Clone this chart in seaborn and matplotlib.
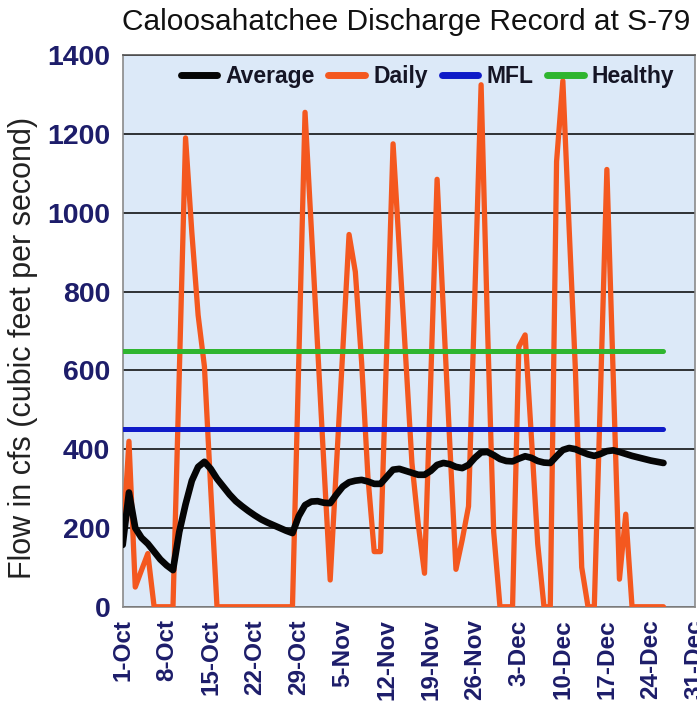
import pandas as pd
import numpy as np
import matplotlib
matplotlib.use('Agg')
import matplotlib.pyplot as plt
from matplotlib.lines import Line2D
import seaborn as sns

# values, one per day from 1-Oct
start_date = '2012-10-01'
daily_cfs = [160, 420, 50, 93, 135, 0, 0, 0, 0, 590,
             1190, 950, 740, 610, 300, 0, 0, 0, 0, 0,
             0, 0, 0, 0, 0, 0, 0, 0, 620, 1255,
             960, 660, 360, 68, 360, 650, 945, 850, 620, 330,
             140, 140, 660, 1175, 905, 635, 365, 210, 85, 580,
             1085, 750, 420, 95, 170, 255, 790, 1325, 720, 190,
             0, 0, 0, 660, 690, 430, 160, 0, 0, 1130,
             1335, 960, 600, 100, 0, 0, 550, 1110, 590, 70,
             235, 0, 0, 0, 0, 0, 0]
average_cfs = [157, 290, 200, 175, 160, 140, 120, 105, 93, 190,
               260, 320, 355, 368, 350, 325, 305, 285, 268, 255,
               243, 232, 222, 214, 207, 200, 193, 187, 230, 258,
               267, 268, 264, 263, 285, 305, 316, 320, 322, 318,
               312, 312, 330, 348, 350, 345, 340, 335, 335, 345,
               360, 365, 362, 355, 352, 360, 378, 392, 393, 385,
               375, 370, 369, 376, 382, 378, 370, 366, 365, 382,
               398, 403, 400, 393, 387, 383, 388, 395, 397, 393,
               388, 383, 379, 375, 371, 368, 365]
mfl_cfs = 450
healthy_cfs = 650
tick_labels = ['1-Oct', '8-Oct', '15-Oct', '22-Oct', '29-Oct', '5-Nov', '12-Nov',
               '19-Nov', '26-Nov', '3-Dec', '10-Dec', '17-Dec', '24-Dec', '31-Dec']
y_ticks = [0, 200, 400, 600, 800, 1000, 1200, 1400]

dates = pd.date_range(start_date, periods=len(daily_cfs), freq='D')
df = pd.DataFrame({'date': dates, 'Daily': daily_cfs, 'Average': average_cfs,
                   'MFL': mfl_cfs, 'Healthy': healthy_cfs})

sns.set_theme(style='white')
plt.rcParams['font.family'] = ['Liberation Sans', 'DejaVu Sans']

c_daily = '#f4581f'
c_avg = '#050505'
c_mfl = '#0f1bc8'
c_healthy = '#2fb52f'
navy = '#1d1d6a'

fig = plt.figure(figsize=(6.97, 7.08), dpi=100)
ax = fig.add_axes([0.176, 0.143, 0.821, 0.779])
ax.set_facecolor('#dce9f8')

sns.lineplot(data=df, x='date', y='Daily', ax=ax, color=c_daily, lw=3.8, zorder=3)
sns.lineplot(data=df, x='date', y='Average', ax=ax, color=c_avg, lw=4.8, zorder=4)
sns.lineplot(data=df, x='date', y='MFL', ax=ax, color=c_mfl, lw=3.6, zorder=5)
sns.lineplot(data=df, x='date', y='Healthy', ax=ax, color=c_healthy, lw=3.6, zorder=5)

tick_dates = pd.date_range(start_date, periods=len(tick_labels), freq='7D')
ax.set_xlim(tick_dates[0], tick_dates[-1])
ax.set_ylim(0, 1400)
ax.set_xticks(tick_dates)
ax.set_xticklabels(tick_labels, rotation=90, fontsize=17.5, fontweight='bold', color=navy)
ax.set_yticks(y_ticks)
ax.set_yticklabels([str(v) for v in y_ticks], fontsize=20.5, fontweight='bold', color=navy)
ax.tick_params(axis='both', direction='out', length=6, width=1, color='#8a8a8a', pad=3)
ax.yaxis.grid(True, color='black', lw=1.1, zorder=1)
ax.xaxis.grid(False)
for s in ax.spines.values():
    s.set_color('#8a8a8a')
    s.set_linewidth(1.2)
ax.spines['top'].set_color('#555555')

ax.set_xlabel('')
ax.set_ylabel('Flow in cfs (cubic feet per second)', fontsize=22, color='#222222')
ax.yaxis.set_label_coords(-0.148, 0.47)
fig.text(0.583, 0.969, 'Caloosahatchee Discharge Record at S-79', ha='center', va='center',
         fontsize=21.5, color='#111111')

handles = [Line2D([], [], color=c, lw=5) for c in (c_avg, c_daily, c_mfl, c_healthy)]
ax.legend(handles, ['Average', 'Daily', 'MFL', 'Healthy'], ncol=4, loc='upper right',
          bbox_to_anchor=(1.0, 1.02), frameon=False, handlelength=1.6, handletextpad=0.35,
          columnspacing=0.6, prop={'size': 16.5, 'weight': 'bold'}, labelcolor='#151525')

fig.savefig('out.png', dpi=100, facecolor='white')
